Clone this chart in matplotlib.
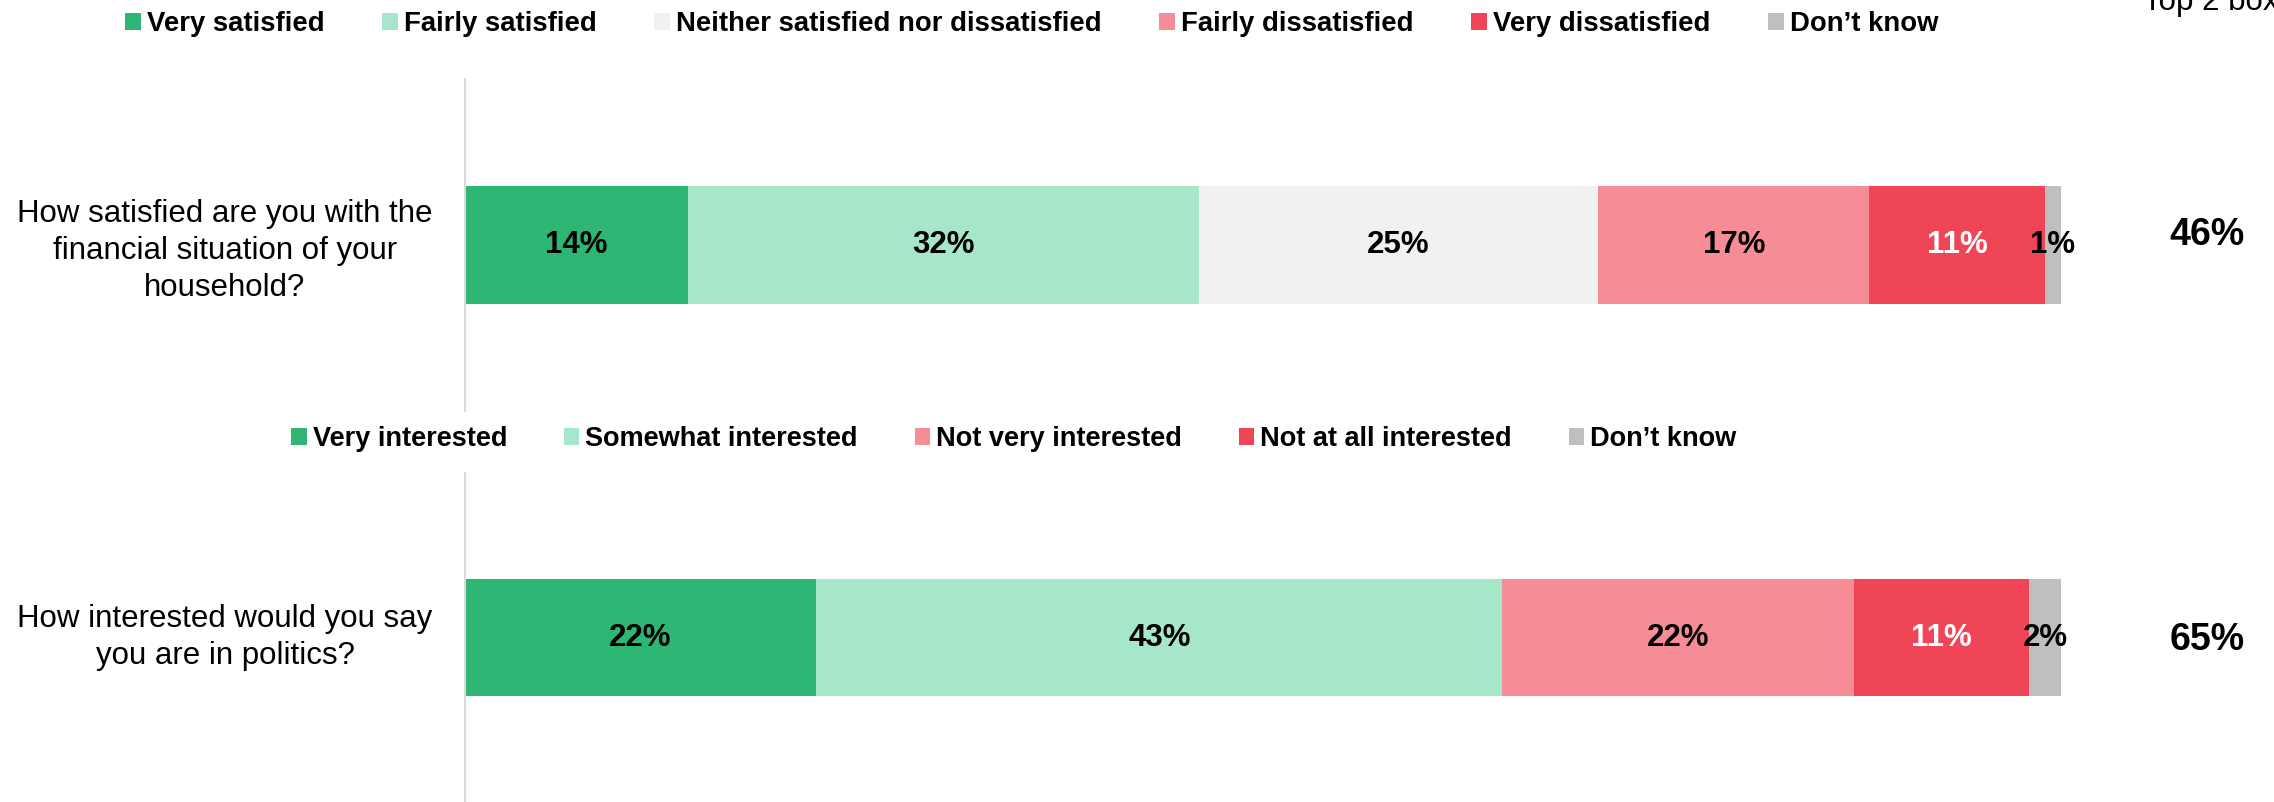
import matplotlib
matplotlib.use('Agg')
import matplotlib.pyplot as plt
import matplotlib.transforms as mtransforms
from matplotlib.patches import Patch
import numpy as np

plt.rcParams['font.family'] = ['Liberation Sans', 'DejaVu Sans']

# data
q1_text = 'How satisfied are you with the\nfinancial situation of your\nhousehold?'
q1_cats = ['Very satisfied', 'Fairly satisfied', 'Neither satisfied nor dissatisfied',
           'Fairly dissatisfied', 'Very dissatisfied', 'Don\u2019t know']
q1_vals = [14, 32, 25, 17, 11, 1]
q1_colors = ['#2EB674', '#A6E7CA', '#F1F1F1', '#F68C96', '#F04557', '#BFBFBF']
q1_top2 = 46

q2_text = 'How interested would you say\nyou are in politics?'
q2_cats = ['Very interested', 'Somewhat interested', 'Not very interested',
           'Not at all interested', 'Don\u2019t know']
q2_vals = [22, 43, 22, 11, 2]
q2_colors = ['#2EB674', '#A6E7CA', '#F68C96', '#F04557', '#BFBFBF']
q2_top2 = 65

W, H = 2274, 802
fig = plt.figure(figsize=(W / 100, H / 100), dpi=100)

ax1 = fig.add_axes([465 / W, 1 - 411 / H, 1596 / W, 332 / H])
ax2 = fig.add_axes([465 / W, 0, 1596 / W, 329 / H])


def draw_panel(ax, question, q_y, cats, vals, colors, top2, top2_y, legend_xy, leg_size):
    left = 0
    for cat, v, c in zip(cats, vals, colors):
        bars = ax.barh(0, v, left=left, height=0.715, color=c, label=cat)
        txt_color = 'white' if c == '#F04557' else 'black'
        ax.bar_label(bars, labels=[f'{v}%'], label_type='center',
                     fontsize=22.5, fontweight='bold', color=txt_color)
        left += v
    ax.set_xlim(0, 100)
    ax.set_ylim(-1, 1)
    for s in ['top', 'right', 'bottom']:
        ax.spines[s].set_visible(False)
    ax.spines['left'].set_color('#D9D9D9')
    ax.spines['left'].set_linewidth(1.5)
    ax.set_xticks([])
    ax.set_yticks([])

    trans = mtransforms.blended_transform_factory(fig.transFigure, ax.transData)
    ax.text(225 / W, q_y, question, transform=trans, ha='center', va='center',
            multialignment='center', fontsize=22.5, linespacing=1.3)
    ax.text(2207 / W, top2_y, f'{top2}%', transform=trans, ha='center', va='center',
            fontsize=27, fontweight='bold')

    handles = [Patch(facecolor=c, edgecolor='none') for c in colors]
    fig.legend(handles, cats, loc='center left', bbox_to_anchor=legend_xy,
               bbox_transform=fig.transFigure, ncol=len(cats), frameon=False,
               prop={'size': leg_size, 'weight': 'bold'}, handlelength=0.58,
               handleheight=0.58, handletextpad=0.22, columnspacing=2.09,
               borderpad=0, borderaxespad=0)


draw_panel(ax1, q1_text, -0.035, q1_cats, q1_vals, q1_colors, q1_top2, 0.06,
           (125 / W, 1 - 24 / H), 19.8)
draw_panel(ax2, q2_text, 0, q2_cats, q2_vals, q2_colors, q2_top2, -0.015,
           (291 / W, 1 - 439 / H), 19.5)

fig.text(2143 / W, 1 - 10 / H, 'Top 2 box', ha='left', va='baseline', fontsize=22.5)

fig.savefig('out.png', dpi=100)
